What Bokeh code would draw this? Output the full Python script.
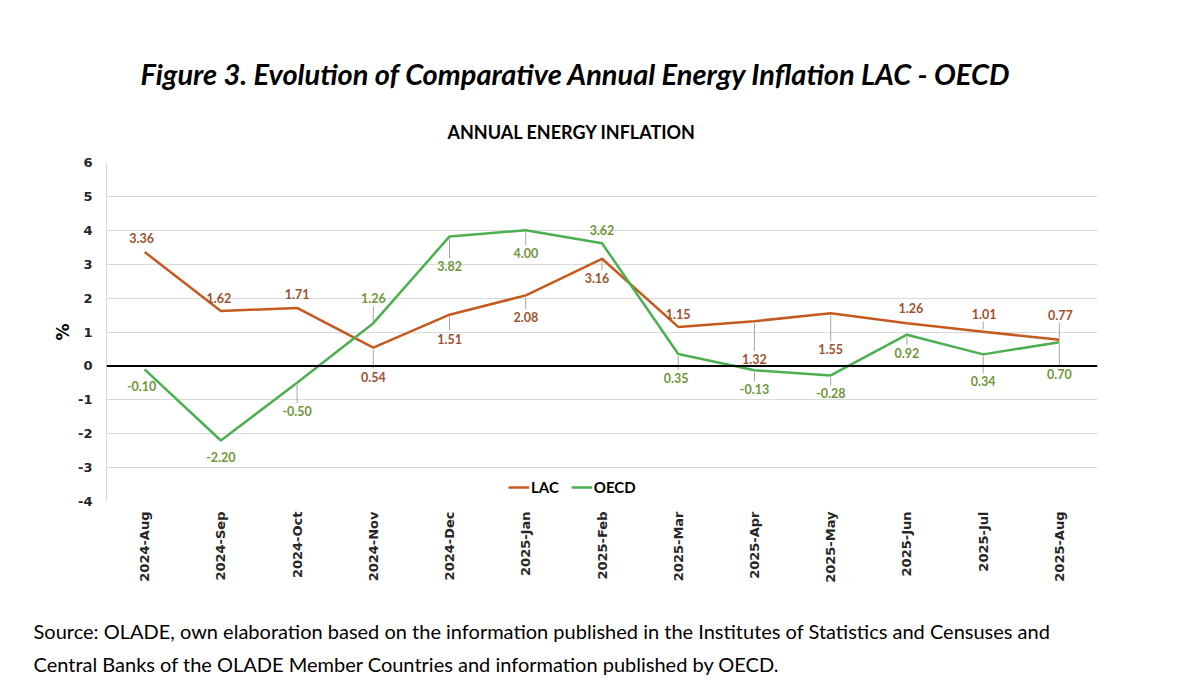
import numpy as np
from bokeh.plotting import figure
from bokeh.models import (ColumnDataSource, Span, Legend, LegendItem, FixedTicker, Title)
from bokeh.core.properties import value
from bokeh.embed import file_html
from bokeh.resources import INLINE

months = ["2024-Aug", "2024-Sep", "2024-Oct", "2024-Nov", "2024-Dec", "2025-Jan",
          "2025-Feb", "2025-Mar", "2025-Apr", "2025-May", "2025-Jun", "2025-Jul", "2025-Aug"]
lac = [3.36, 1.62, 1.71, 0.54, 1.51, 2.08, 3.16, 1.15, 1.32, 1.55, 1.26, 1.01, 0.77]
oecd = [-0.10, -2.20, -0.50, 1.26, 3.82, 4.00, 3.62, 0.35, -0.13, -0.28, 0.92, 0.34, 0.70]
y_ticks = [-4, -3, -2, -1, 0, 1, 2, 3, 4, 5, 6]

fig_title = "Figure 3. Evolution of Comparative Annual Energy Inflation LAC - OECD"
chart_title = "ANNUAL ENERGY INFLATION"
source_line1 = ("Source: OLADE, own elaboration based on the information published in the "
                "Institutes of Statistics and Censuses and")
source_line2 = "Central Banks of the OLADE Member Countries and information published by OECD."

# label placement (screen px offsets; positive dy = downward)
lac_dx = [-3, -2, 0, 0, 0, 0, -5, 0, 0, 0, 4, 1, 1]
lac_dy = [-14, -13, -14, 29, 24, 22, 19, -13, 38, 36, -15, -18, -25]
oecd_dx = [-3, 0, 0, 0, 0, 0, 0, -2, 0, 0, 0, 0, 0]
oecd_dy = [17, 17, 28, -25, 30, 23, -13, 24, 19, 18, 18, 27, 32]

LAC_LINE = "#C55A1F"
LAC_TEXT = "#9C5230"
OECD_LINE = "#4CB050"
OECD_TEXT = "#70963C"

W, H = 1190, 685
FL, FR, FT, FB = 106, 1097, 162, 501
PPU = (FB - FT) / 10.0

p = figure(x_range=months, y_range=(-4, 6), width=W, height=H,
           output_backend="svg", toolbar_location=None,
           min_border_left=FL, min_border_right=W - FR,
           min_border_top=FT, min_border_bottom=H - FB)
p.outline_line_color = None
p.background_fill_color = "white"
p.border_fill_color = "white"
p.xgrid.grid_line_color = None
p.ygrid.grid_line_color = "#D9D9D9"
p.ygrid.grid_line_width = 1
p.yaxis.ticker = FixedTicker(ticks=y_ticks)
p.yaxis.major_label_overrides = {t: str(t) for t in y_ticks}

for ax in (p.xaxis, p.yaxis):
    ax.major_tick_line_color = None
    ax.minor_tick_line_color = None
    ax.major_tick_out = 0
    ax.major_tick_in = 0
    ax.minor_tick_out = 0
    ax.minor_tick_in = 0
    ax.major_label_text_font = "DejaVu Sans"
    ax.major_label_text_font_style = "bold"
    ax.major_label_text_font_size = "13px"
    ax.major_label_text_color = "#262626"
p.xaxis.axis_line_color = None
p.yaxis.axis_line_color = "#D9D9D9"
p.xaxis.major_label_orientation = np.pi / 2
p.xaxis.major_label_standoff = 10
p.yaxis.major_label_standoff = 14
p.yaxis.axis_label = "%"
p.yaxis.axis_label_text_font = "DejaVu Sans"
p.yaxis.axis_label_text_font_style = "bold"
p.yaxis.axis_label_text_font_size = "17px"
p.yaxis.axis_label_text_color = "#000000"
p.yaxis.axis_label_standoff = 2

# titles above the frame (first added = closest to the frame)
p.add_layout(Title(text=chart_title, align="left", offset=341, standoff=40,
                   text_font="Lato", text_font_style="bold", text_font_size="18px",
                   text_color="#000000"), "above")
p.add_layout(Title(text=fig_title, align="left", offset=34, standoff=15,
                   text_font="Lato", text_font_style="bold italic", text_font_size="29px",
                   text_color="#000000"), "above")

p.add_layout(Span(location=0, dimension="width", line_color="black", line_width=2))

src = ColumnDataSource(dict(m=months, lac=lac, oecd=oecd,
                            lac_t=[f"{v:.2f}" for v in lac],
                            oecd_t=[f"{v:.2f}" for v in oecd],
                            lac_dx=lac_dx, lac_dy=lac_dy,
                            oecd_dx=oecd_dx, oecd_dy=oecd_dy))

# leader lines for labels moved away from their points
seg = dict(x0=[], y0=[], x1=[], y1=[])
for vals, dys in ((lac, lac_dy), (oecd, oecd_dy)):
    for m, v, d in zip(months, vals, dys):
        if abs(d) >= 18:
            s = 1 if d > 0 else -1
            seg["x0"].append(m); seg["x1"].append(m)
            seg["y0"].append(v - s * 2 / PPU)
            seg["y1"].append(v - s * (abs(d) - 8) / PPU)
p.segment(x0="x0", y0="y0", x1="x1", y1="y1", source=ColumnDataSource(seg),
          line_color="#A6A6A6", line_width=1)

r_lac = p.line("m", "lac", source=src, line_color=LAC_LINE, line_width=2.5)
r_oecd = p.line("m", "oecd", source=src, line_color=OECD_LINE, line_width=2.5)

for col, ycol, dx, dy, color in (("lac_t", "lac", "lac_dx", "lac_dy", LAC_TEXT),
                                 ("oecd_t", "oecd", "oecd_dx", "oecd_dy", OECD_TEXT)):
    p.text(x="m", y=ycol, text=col, source=src, x_offset=dx, y_offset=dy,
           text_align="center", text_baseline="middle",
           text_font=value("Lato"), text_font_style="bold",
           text_font_size="12.5px", text_color=color)

legend = Legend(items=[LegendItem(label="LAC", renderers=[r_lac]),
                       LegendItem(label="OECD", renderers=[r_oecd])],
                orientation="horizontal", location=(402, 5),
                glyph_width=21, glyph_height=14, label_standoff=2, spacing=12,
                padding=0, margin=0, border_line_color=None,
                background_fill_alpha=0,
                label_text_font="Lato", label_text_font_style="bold",
                label_text_font_size="15px", label_text_color="#000000")
p.add_layout(legend, "center")

# notes below the axis (spacer, then the two source lines)
p.add_layout(Title(text=" ", standoff=15, text_font_size="10px"), "below")
p.add_layout(Title(text=source_line1, align="left", offset=-73, standoff=6,
                   text_font="Lato", text_font_style="normal", text_font_size="20px",
                   text_color="#000000"), "below")
p.add_layout(Title(text=source_line2, align="left", offset=-73, standoff=8,
                   text_font="Lato", text_font_style="normal", text_font_size="20px",
                   text_color="#000000"), "below")

open("out.html", "w").write(file_html(p, INLINE))
